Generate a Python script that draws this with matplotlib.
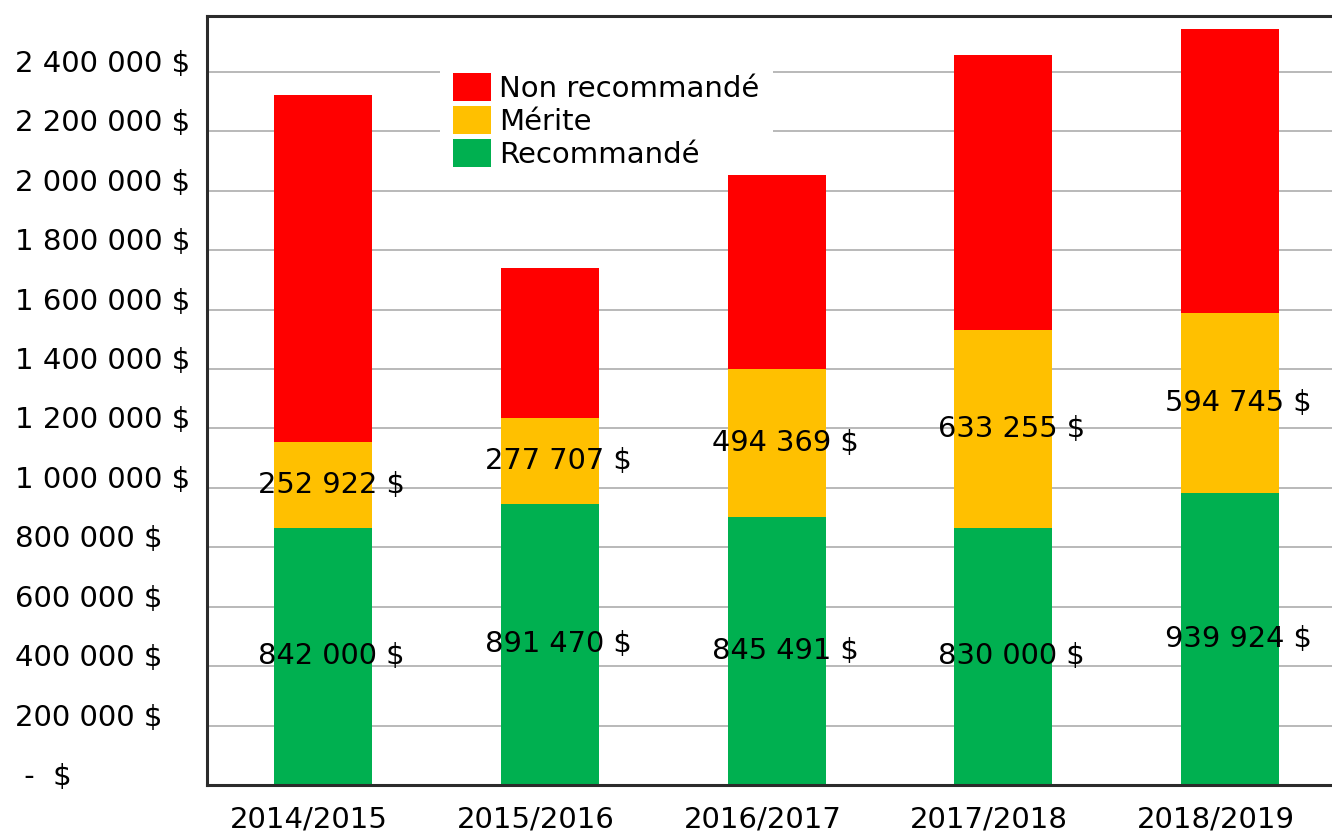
import numpy as np
import matplotlib
matplotlib.use('Agg')
import matplotlib.pyplot as plt
from matplotlib.patches import Patch
from matplotlib.transforms import ScaledTranslation

plt.rcParams['font.family'] = ['DejaVu Sans']

# Data
annees = ['2014/2015', '2015/2016', '2016/2017', '2017/2018', '2018/2019']
recommande = [866000, 946000, 902000, 865000, 983000]
merite = [289000, 289000, 498000, 667000, 606000]
non_recommande = [1168000, 505000, 653000, 926000, 956000]

# Values printed on the bars
etiquettes_recommande = [842000, 891470, 845491, 830000, 939924]
etiquettes_merite = [252922, 277707, 494369, 633255, 594745]

graduations = list(range(0, 2400001, 200000))

VERT = '#00B050'
JAUNE = '#FFC000'
ROUGE = '#FF0000'


def dollars(v):
    if v == 0:
        return ' -  $'
    return f'{v:,}'.replace(',', ' ') + ' $'


fig = plt.figure(figsize=(13.32, 8.34), dpi=100)
ax = fig.add_axes([207 / 1332, 1 - 785 / 834, 1 - 207 / 1332, (785 - 16) / 834])

x = np.arange(len(annees))
largeur = 0.432
bas = np.array(recommande) + np.array(merite)

ax.bar(x, recommande, largeur, color=VERT, linewidth=0, zorder=2)
ax.bar(x, merite, largeur, bottom=recommande, color=JAUNE, linewidth=0, zorder=2)
ax.bar(x, non_recommande, largeur, bottom=bas, color=ROUGE, linewidth=0, zorder=2)

# Data labels, centred in their segments
for i in range(len(annees)):
    ax.annotate(dollars(etiquettes_recommande[i]), (x[i], recommande[i] / 2),
                xytext=(6, 0), textcoords='offset points',
                ha='center', va='center', fontsize=20.8, color='black', zorder=3)
    ax.annotate(dollars(etiquettes_merite[i]), (x[i], recommande[i] + merite[i] / 2),
                xytext=(6, 0), textcoords='offset points',
                ha='center', va='center', fontsize=20.8, color='black', zorder=3)

ax.set_xlim(-0.5126, 4.45)
ax.set_ylim(0, 2.588e6)

ax.set_yticks(graduations, [dollars(v) for v in graduations])
ax.set_xticks(x, annees)
ax.tick_params(axis='y', length=0, pad=138.2, labelsize=21, labelcolor='black')
ax.tick_params(axis='x', length=0, pad=15, labelsize=21, labelcolor='black')
for lab in ax.get_yticklabels():
    lab.set_ha('left')
    lab.set_va('baseline')
decalage = ScaledTranslation(-14 / 100, 0, fig.dpi_scale_trans)
for lab in ax.get_xticklabels():
    lab.set_transform(lab.get_transform() + decalage)

# Grid and frame
ax.grid(axis='y', color='#A6A6A6', linewidth=1.1)
ax.set_axisbelow(True)
ax.spines['right'].set_visible(False)
for cote in ['left', 'top', 'bottom']:
    ax.spines[cote].set_color('#2B2B2B')
    ax.spines[cote].set_linewidth(2.2)

# Legend, drawn over the grid but under the bars
poignees = [
    Patch(facecolor=ROUGE, linewidth=0, label='Non recommandé'),
    Patch(facecolor=JAUNE, linewidth=0, label='Mérite'),
    Patch(facecolor=VERT, linewidth=0, label='Recommandé'),
]
leg = ax.legend(handles=poignees, loc='upper left',
                bbox_to_anchor=(440 / 1332, 1 - 60 / 834), bbox_transform=fig.transFigure,
                fontsize=21, frameon=True, fancybox=False, framealpha=1,
                edgecolor='none', facecolor='white', borderpad=0.45,
                handlelength=1.3, handleheight=1.1, handletextpad=0.28,
                labelspacing=0.1, borderaxespad=0)
leg.set_zorder(1)

fig.savefig('out.png', dpi=100)
